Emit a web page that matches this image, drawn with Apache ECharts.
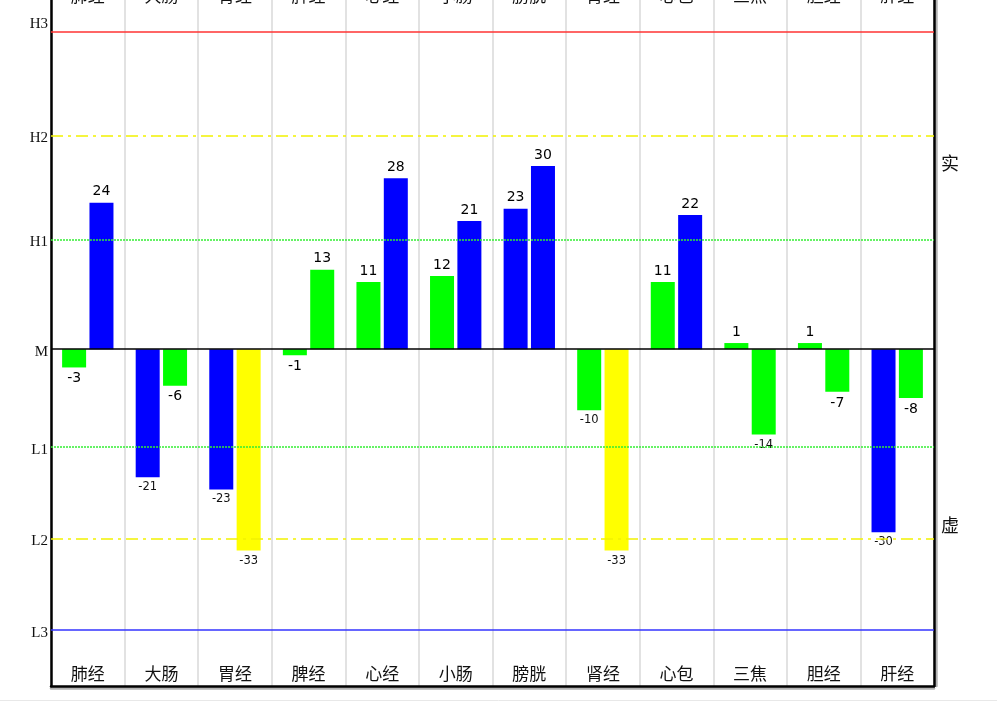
<!DOCTYPE html>
<html>
<head>
<meta charset="utf-8">
<script src="https://cdn.jsdelivr.net/npm/echarts@6/dist/echarts.min.js"></script>
<style>html,body{margin:0;padding:0;background:#fff;}#c{width:997px;height:702px;}</style>
</head>
<body>
<div id="c"></div>
<script>
// categories (meridians)
const categories = ['肺经','大肠','胃经','脾经','心经','小肠','膀胱','肾经','心包','三焦','胆经','肝经'];
// two readings per meridian
const firstValues  = [-3, -21, -23, -1, 11, 12, 23, -10, 11, 1, 1, -30];
const secondValues = [24, -6, -33, 13, 28, 21, 30, -33, 22, -14, -7, -8];
// reference levels
const levelNames  = ['H3','H2','H1','M','L1','L2','L3'];
const levelValues = [52, 35, 18, 0, -16, -31, -46];
// side labels
const sideLabels = ['实','虚'];

const lv = {}; levelNames.forEach((n,i)=>lv[n]=levelValues[i]);
function colorFor(v){
  if (v >= lv.H2 || v < lv.L2) return '#ffff00';
  if (v >= lv.H1 || v <= lv.L1) return '#0000ff';
  return '#00ff00';
}
const levelStyles = {
  H3:{color:'#ff3333', width:1.5, type:'solid'},
  H2:{color:'#f2f200', width:1.5, type:[12,5,3,5]},
  H1:{color:'#33ee33', width:1.5, type:[2,1]},
  M:{color:'#000000', width:1.5, type:'solid'},
  L1:{color:'#33ee33', width:1.5, type:[2,1]},
  L2:{color:'#f2f200', width:1.5, type:[12,5,3,5]},
  L3:{color:'#3333ff', width:1.5, type:'solid'}
};
function makeData(vals){
  return vals.map(v => ({
    value: v,
    itemStyle: {color: colorFor(v)},
    label: {formatter: (v < 0 && Math.abs(v) >= 10) ? '{s|' + v + '}' : '{b|' + v + '}'}
  }));
}
const labelCfg = {
  show: true, position: 'outside', distance: 4,
  rich: {
    b: {fontFamily: 'DejaVu Sans', fontSize: 14, color: '#000'},
    s: {fontFamily: 'DejaVu Sans', fontSize: 11.5, color: '#111'}
  }
};
const frameLine = {color: '#000', width: 2.5};
const chart = echarts.init(document.getElementById('c'), null, {renderer: 'canvas'});
const axisLabelCfg = {inside: true, interval: 0, margin: 4, fontFamily: 'Noto Sans CJK SC', fontSize: 17, color: '#111'};
chart.setOption({
  animation: false,
  backgroundColor: '#fff',
  grid: {left: 51, right: 63, top: -17, bottom: 16, outerBoundsMode: 'none', containLabel: false},
  xAxis: [
    {type: 'category', data: categories, position: 'bottom',
     axisLine: {show: true, onZero: false, lineStyle: Object.assign({shadowColor: 'rgba(0,0,0,0.3)', shadowOffsetY: 2}, frameLine)},
     axisTick: {show: false},
     axisLabel: axisLabelCfg,
     splitLine: {show: true, interval: 0, lineStyle: {color: '#d9d9d9', width: 1.5}}},
    {type: 'category', data: categories, position: 'top',
     axisLine: {show: false}, axisTick: {show: false},
     axisLabel: axisLabelCfg,
     splitLine: {show: false}}
  ],
  yAxis: [
    {type: 'value', min: -55.2, max: 60, position: 'left',
     axisLine: {show: true, onZero: false, lineStyle: frameLine}, axisTick: {show: false},
     axisLabel: {show: false}, splitLine: {show: false}},
    {type: 'value', min: -55.2, max: 60, position: 'right',
     axisLine: {show: true, onZero: false, lineStyle: Object.assign({shadowColor: 'rgba(0,0,0,0.3)', shadowOffsetX: 2}, frameLine)},
     axisTick: {show: false}, axisLabel: {show: false}, splitLine: {show: false}}
  ],
  series: [
    {type: 'bar', data: makeData(firstValues), barWidth: 24, barGap: '14%', label: labelCfg,
     markLine: {
       silent: true, symbol: 'none', animation: false,
       label: {show: true, position: 'start', distance: 3, formatter: '{b}',
               fontFamily: 'Liberation Serif', fontSize: 15, color: '#111'},
       data: levelNames.map((n, i) => ({
         name: n, yAxis: levelValues[i], lineStyle: levelStyles[n],
         label: {offset: [0, n === 'H3' ? -8 : 3]}
       }))
     }},
    {type: 'bar', data: makeData(secondValues), barWidth: 24, barGap: '14%', label: labelCfg}
  ],
  graphic: [
    {type: 'text', left: 941, top: 154, style: {text: sideLabels[0], font: '18px "Noto Sans CJK SC"', fill: '#111'}},
    {type: 'text', left: 941, top: 516, style: {text: sideLabels[1], font: '18px "Noto Sans CJK SC"', fill: '#111'}},
    {type: 'line', shape: {x1: 0, y1: 700.5, x2: 997, y2: 700.5}, style: {stroke: '#e8e8e8', lineWidth: 1}}
  ]
});
</script>
</body>
</html>
